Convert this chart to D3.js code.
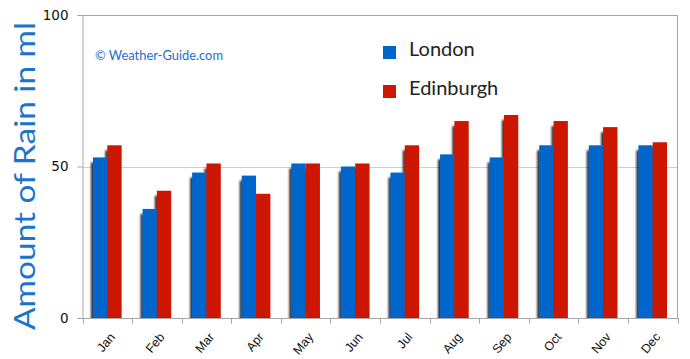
<!DOCTYPE html>
<html>
<head>
<meta charset="utf-8">
<script src="https://cdn.jsdelivr.net/npm/d3@7"></script>
<style>
html,body{margin:0;padding:0;background:#fff;}
svg{display:block;}
</style>
</head>
<body>
<svg id="chart" width="690" height="359"></svg>
<script>
const months = ["Jan","Feb","Mar","Apr","May","Jun","Jul","Aug","Sep","Oct","Nov","Dec"];
const london = [53,36,48,47,51,50,48,54,53,57,57,57];
const edinburgh = [57,42,51,41,51,51,57,65,67,65,63,58];
const seriesNames = ["London","Edinburgh"];
const seriesColors = ["#0066cc","#cc1800"];
const yTicks = [0,50,100];

const svg = d3.select("#chart");
const m = {left:82.5, top:15, right:677.5, bottom:318};

const x = d3.scaleBand().domain(months).range([m.left, m.right]).paddingInner(0).paddingOuter(0);
const y = d3.scaleLinear().domain([0,100]).range([m.bottom, m.top]);
const xs = d3.scaleBand().domain(seriesNames).range([0, x.bandwidth()]).paddingInner(0).paddingOuter(0.73);

const defs = svg.append("defs");
const f = defs.append("filter").attr("id","sh").attr("x","-50%").attr("y","-10%").attr("width","200%").attr("height","130%");
f.append("feDropShadow").attr("dx",-2).attr("dy",5).attr("stdDeviation",0.9).attr("flood-color","#000").attr("flood-opacity",0.85);
defs.append("clipPath").attr("id","clip").append("rect")
  .attr("x", m.left - 10).attr("y", 0).attr("width", m.right - m.left + 20).attr("height", m.bottom);

// gridline at 50
svg.append("line").attr("x1", m.left).attr("x2", m.right)
  .attr("y1", Math.round(y(50))+0.5).attr("y2", Math.round(y(50))+0.5)
  .attr("stroke","#b9d3ee").attr("stroke-width",1);

// bars
const data = months.map((mo,i)=>({mo, vals:[london[i], edinburgh[i]]}));
const gBars = svg.append("g").attr("clip-path","url(#clip)");
const groups = gBars.selectAll("g.grp").data(data).enter().append("g")
  .attr("class","grp").attr("filter","url(#sh)")
  .attr("transform", d=>`translate(${x(d.mo)},0)`);
groups.selectAll("rect").data(d=>d.vals.map((v,j)=>({v, s:seriesNames[j], c:seriesColors[j]})))
  .enter().append("rect")
  .attr("x", d=>xs(d.s)).attr("width", xs.bandwidth())
  .attr("y", d=>y(d.v)).attr("height", d=>y(0)-y(d.v))
  .attr("fill", d=>d.c);

// frame: top + right
svg.append("line").attr("x1",78).attr("x2",m.right).attr("y1",m.top+0.5).attr("y2",m.top+0.5).attr("stroke","#a6a6a6");
svg.append("line").attr("x1",m.right).attr("x2",m.right).attr("y1",m.top).attr("y2",m.bottom).attr("stroke","#a6a6a6");

// y axis
const yAxis = d3.axisLeft(y).tickValues(yTicks).tickSize(5).tickPadding(9);
const gy = svg.append("g").attr("transform",`translate(${m.left},0)`).call(yAxis);
gy.select(".domain").attr("stroke","#a6a6a6");
gy.selectAll(".tick line").attr("stroke","#a6a6a6");
gy.selectAll(".tick text").attr("font-family","Tahoma, 'DejaVu Sans', sans-serif").attr("font-size",13.5).attr("fill","#111");

// x axis
const gx = svg.append("g").attr("transform",`translate(0,${m.bottom+0.5})`);
gx.append("line").attr("x1",m.left).attr("x2",m.right+1).attr("stroke","#a6a6a6");
const bounds = months.map(d=>x(d)).concat([m.right]);
gx.selectAll("line.tk").data(bounds).enter().append("line").attr("class","tk")
  .attr("x1",d=>Math.round(d)+0.5).attr("x2",d=>Math.round(d)+0.5).attr("y1",0).attr("y2",5).attr("stroke","#a6a6a6");
gx.selectAll("text").data(months).enter().append("text")
  .attr("transform", d=>`translate(${x(d)+x.bandwidth()/2+5},${16}) rotate(-50)`)
  .attr("text-anchor","end").attr("dy","0.35em")
  .attr("font-family","'Liberation Sans', Arial, sans-serif").attr("font-size",12.5).attr("fill","#111")
  .text(d=>d);

// y title
svg.append("text")
  .attr("transform","translate(35,176) rotate(-90)")
  .attr("text-anchor","middle")
  .attr("font-family","Lato, 'Open Sans', sans-serif").attr("font-size",29)
  .attr("fill","#1a74cc")
  .attr("textLength",308).attr("lengthAdjust","spacingAndGlyphs")
  .text("Amount of Rain in ml");

// watermark
svg.append("text").attr("x",95).attr("y",60)
  .attr("font-family","Lato, 'Open Sans', sans-serif").attr("font-size",13)
  .attr("fill","#1a6fcc").attr("textLength",128).attr("lengthAdjust","spacingAndGlyphs")
  .text("© Weather-Guide.com");

// legend
const leg = svg.append("g");
const legItems = leg.selectAll("g").data(seriesNames).enter().append("g")
  .attr("transform",(d,i)=>`translate(383,${46 + i*39})`);
legItems.append("rect").attr("width",13).attr("height",13).attr("fill",(d,i)=>seriesColors[i]);
legItems.append("text").attr("x",26).attr("y",10)
  .attr("font-family","Lato, 'Open Sans', sans-serif").attr("font-size",20).attr("fill","#222")
  .text(d=>d);
</script>
</body>
</html>
